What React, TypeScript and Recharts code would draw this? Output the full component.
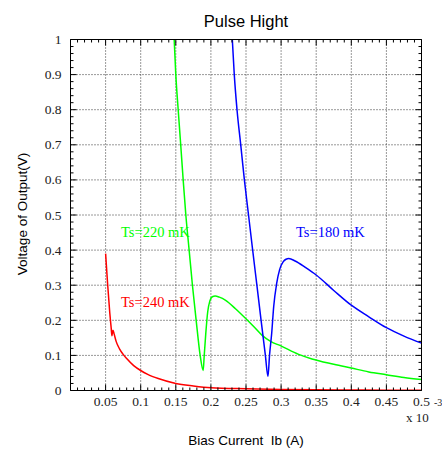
import React from 'react';
import { LineChart, Line, XAxis, YAxis, ReferenceLine } from 'recharts';

// ---- axis ticks ----
const xMajorTicks = [0.05, 0.1, 0.15, 0.2, 0.25, 0.3, 0.35, 0.4, 0.45, 0.5];
const xTickLabels = ['0.05', '0.1', '0.15', '0.2', '0.25', '0.3', '0.35', '0.4', '0.45', '0.5'];
const yMajorTicks = [0, 0.1, 0.2, 0.3, 0.4, 0.5, 0.6, 0.7, 0.8, 0.9, 1];
const yTickLabels = ['0', '0.1', '0.2', '0.3', '0.4', '0.5', '0.6', '0.7', '0.8', '0.9', '1'];
const xMinorTicks = Array.from({ length: 51 }, (_, i) => Math.round(i) / 100);
const yMinorTicks = Array.from({ length: 51 }, (_, i) => Math.round(i * 2) / 100);
const xGridValues = [0.05, 0.1, 0.15, 0.2, 0.25, 0.3, 0.35, 0.4, 0.45];
const yGridValues = [0.1, 0.2, 0.3, 0.4, 0.5, 0.6, 0.7, 0.8, 0.9];

// ---- series: Ts = 240 mK (red) ----
const ts240X = [0.05, 0.053, 0.056, 0.058, 0.059, 0.0605, 0.062, 0.065, 0.07, 0.075, 0.08, 0.09, 0.1, 0.11, 0.125, 0.15, 0.175, 0.2, 0.25, 0.3, 0.35, 0.4, 0.45, 0.5];
const ts240Y = [0.39, 0.3, 0.22, 0.177, 0.156, 0.172, 0.162, 0.14, 0.118, 0.103, 0.091, 0.071, 0.057, 0.046, 0.034, 0.02, 0.013, 0.008, 0.005, 0.003, 0.002, 0.0015, 0.001, 0.001];

// ---- series: Ts = 220 mK (green) ----
const ts220X = [0.1477, 0.15, 0.1534, 0.157, 0.1605, 0.1643, 0.169, 0.1737, 0.179, 0.1847, 0.189, 0.1905, 0.1927, 0.1955, 0.1985, 0.202, 0.206, 0.212, 0.221, 0.235, 0.2496, 0.262, 0.273, 0.285, 0.2997, 0.325, 0.344, 0.375, 0.4, 0.425, 0.45, 0.475, 0.5];
const ts220Y = [1, 0.9, 0.8, 0.7, 0.6, 0.5, 0.4, 0.3, 0.2, 0.1, 0.057, 0.1, 0.162, 0.225, 0.255, 0.267, 0.269, 0.266, 0.257, 0.233, 0.205, 0.18, 0.157, 0.14, 0.127, 0.103, 0.09, 0.075, 0.064, 0.053, 0.045, 0.037, 0.031];

// ---- series: Ts = 180 mK (blue) ----
const ts180X = [0.2305, 0.2333, 0.2372, 0.2425, 0.2477, 0.2536, 0.2595, 0.2655, 0.2715, 0.2776, 0.2813, 0.2835, 0.2866, 0.2895, 0.2937, 0.298, 0.3031, 0.307, 0.311, 0.32, 0.335, 0.35, 0.375, 0.4, 0.425, 0.45, 0.475, 0.5];
const ts180Y = [1, 0.9, 0.8, 0.7, 0.6, 0.5, 0.4, 0.3, 0.2, 0.1, 0.04, 0.1, 0.163, 0.24, 0.305, 0.345, 0.367, 0.374, 0.376, 0.369, 0.35, 0.329, 0.285, 0.243, 0.21, 0.179, 0.155, 0.135];

const toPoints = (xs: number[], ys: number[]) => xs.map((x, i) => ({ x, y: ys[i] }));
const data240 = toPoints(ts240X, ts240Y);
const data220 = toPoints(ts220X, ts220Y);
const data180 = toPoints(ts180X, ts180Y);

const W = 442;
const H = 452;
// each axis takes 1px, so plot area = [70.5, 421.5] x [39.5, 390.5]
const M = { top: 38.5, right: 19.5, bottom: 60.5, left: 69.5 };

const SERIF = '"Liberation Serif", "DejaVu Serif", serif';
const SANS = '"Liberation Sans", Arial, sans-serif';

const near = (a: number, b: number) => Math.abs(a - b) < 1e-6;
const majorIndex = (v: number, arr: number[]) => arr.findIndex((m) => near(m, v));

const MAJOR_LEN = 6;
const MINOR_LEN = 3;

const BottomTick = (props: any) => {
  const { x, y, payload } = props;
  const idx = majorIndex(payload.value, xMajorTicks);
  const len = idx >= 0 ? MAJOR_LEN : MINOR_LEN;
  return (
    <g>
      <line x1={x} x2={x} y1={y} y2={y - len} stroke="#000" strokeWidth={1} />
      {idx >= 0 && (
        <text x={x} y={y + 15} textAnchor="middle" fontFamily={SERIF} fontSize={13.5} fill="#222">
          {xTickLabels[idx]}
        </text>
      )}
    </g>
  );
};

const TopTick = (props: any) => {
  const { x, y, payload } = props;
  const idx = majorIndex(payload.value, xMajorTicks);
  const len = idx >= 0 ? MAJOR_LEN : MINOR_LEN;
  return <line x1={x} x2={x} y1={y} y2={y + len} stroke="#000" strokeWidth={1} />;
};

const LeftTick = (props: any) => {
  const { x, y, payload } = props;
  const idx = majorIndex(payload.value, yMajorTicks);
  const len = idx >= 0 ? MAJOR_LEN : MINOR_LEN;
  return (
    <g>
      <line x1={x} x2={x + len} y1={y} y2={y} stroke="#000" strokeWidth={1} />
      {idx >= 0 && (
        <text x={x - 9} y={y + 4.5} textAnchor="end" fontFamily={SERIF} fontSize={13.5} fill="#222">
          {yTickLabels[idx]}
        </text>
      )}
    </g>
  );
};

const RightTick = (props: any) => {
  const { x, y, payload } = props;
  const idx = majorIndex(payload.value, yMajorTicks);
  const len = idx >= 0 ? MAJOR_LEN : MINOR_LEN;
  return <line x1={x} x2={x - len} y1={y} y2={y} stroke="#000" strokeWidth={1} />;
};

export default function App() {
  return (
    <div style={{ position: 'absolute', left: 0, top: 0, width: W, height: H, background: '#fff' }}>
      <LineChart width={W} height={H} margin={M}>
        <XAxis
          xAxisId="bottom"
          type="number"
          dataKey="x"
          domain={[0, 0.5]}
          ticks={xMinorTicks}
          interval={0}
          orientation="bottom"
          height={1}
          tickSize={0}
          tickMargin={0}
          tickLine={false}
          axisLine={{ stroke: '#000', strokeWidth: 1 }}
          tick={<BottomTick />}
          allowDataOverflow
        />
        <XAxis
          xAxisId="top"
          type="number"
          dataKey="x"
          domain={[0, 0.5]}
          ticks={xMinorTicks}
          interval={0}
          orientation="top"
          height={1}
          tickSize={0}
          tickMargin={0}
          tickLine={false}
          axisLine={{ stroke: '#000', strokeWidth: 1 }}
          tick={<TopTick />}
          allowDataOverflow
        />
        <YAxis
          yAxisId="left"
          type="number"
          domain={[0, 1]}
          ticks={yMinorTicks}
          interval={0}
          orientation="left"
          width={1}
          tickSize={0}
          tickMargin={0}
          tickLine={false}
          axisLine={{ stroke: '#000', strokeWidth: 1 }}
          tick={<LeftTick />}
          allowDataOverflow
        />
        <YAxis
          yAxisId="right"
          type="number"
          domain={[0, 1]}
          ticks={yMinorTicks}
          interval={0}
          orientation="right"
          width={1}
          tickSize={0}
          tickMargin={0}
          tickLine={false}
          axisLine={{ stroke: '#000', strokeWidth: 1 }}
          tick={<RightTick />}
          allowDataOverflow
        />
        {xGridValues.map((v) => (
          <ReferenceLine key={'gx' + v} x={v} xAxisId="bottom" yAxisId="left" stroke="#333" strokeWidth={1} strokeDasharray="1 2" />
        ))}
        {yGridValues.map((v) => (
          <ReferenceLine key={'gy' + v} y={v} xAxisId="bottom" yAxisId="left" stroke="#333" strokeWidth={1} strokeDasharray="1 2" />
        ))}
        <Line data={data220} dataKey="y" xAxisId="bottom" yAxisId="left" type="monotone" stroke="#00ff00" strokeWidth={1.5} dot={false} isAnimationActive={false} />
        <Line data={data180} dataKey="y" xAxisId="bottom" yAxisId="left" type="monotone" stroke="#0000ff" strokeWidth={1.5} dot={false} isAnimationActive={false} />
        <Line data={data240} dataKey="y" xAxisId="bottom" yAxisId="left" type="monotone" stroke="#ff0000" strokeWidth={1.5} dot={false} isAnimationActive={false} />
      </LineChart>
      <svg width={W} height={H} style={{ position: 'absolute', left: 0, top: 0, pointerEvents: 'none' }}>
        <text x={246} y={27} textAnchor="middle" fontFamily={SANS} fontSize={16.5} fill="#000">Pulse Hight</text>
        <text x={246} y={445} textAnchor="middle" fontFamily={SANS} fontSize={13.5} fill="#000" style={{ whiteSpace: 'pre' }}>Bias Current  Ib (A)</text>
        <text transform="translate(27,214) rotate(-90)" textAnchor="middle" fontFamily={SANS} fontSize={13.5} fill="#000">Voltage of Output(V)</text>
        <text x={121} y={237} fontFamily={SERIF} fontSize={14.5} fill="#00ff00">Ts=220 mK</text>
        <text x={121} y={307} fontFamily={SERIF} fontSize={14.5} fill="#ff0000">Ts=240 mK</text>
        <text x={296} y={237} fontFamily={SERIF} fontSize={14.5} fill="#0000ff">Ts=180 mK</text>
        <text x={406} y={422} fontFamily={SERIF} fontSize={13} fill="#222">x 10</text>
        <text x={434} y={406} fontFamily={SERIF} fontSize={10} fill="#222">-3</text>
      </svg>
    </div>
  );
}
